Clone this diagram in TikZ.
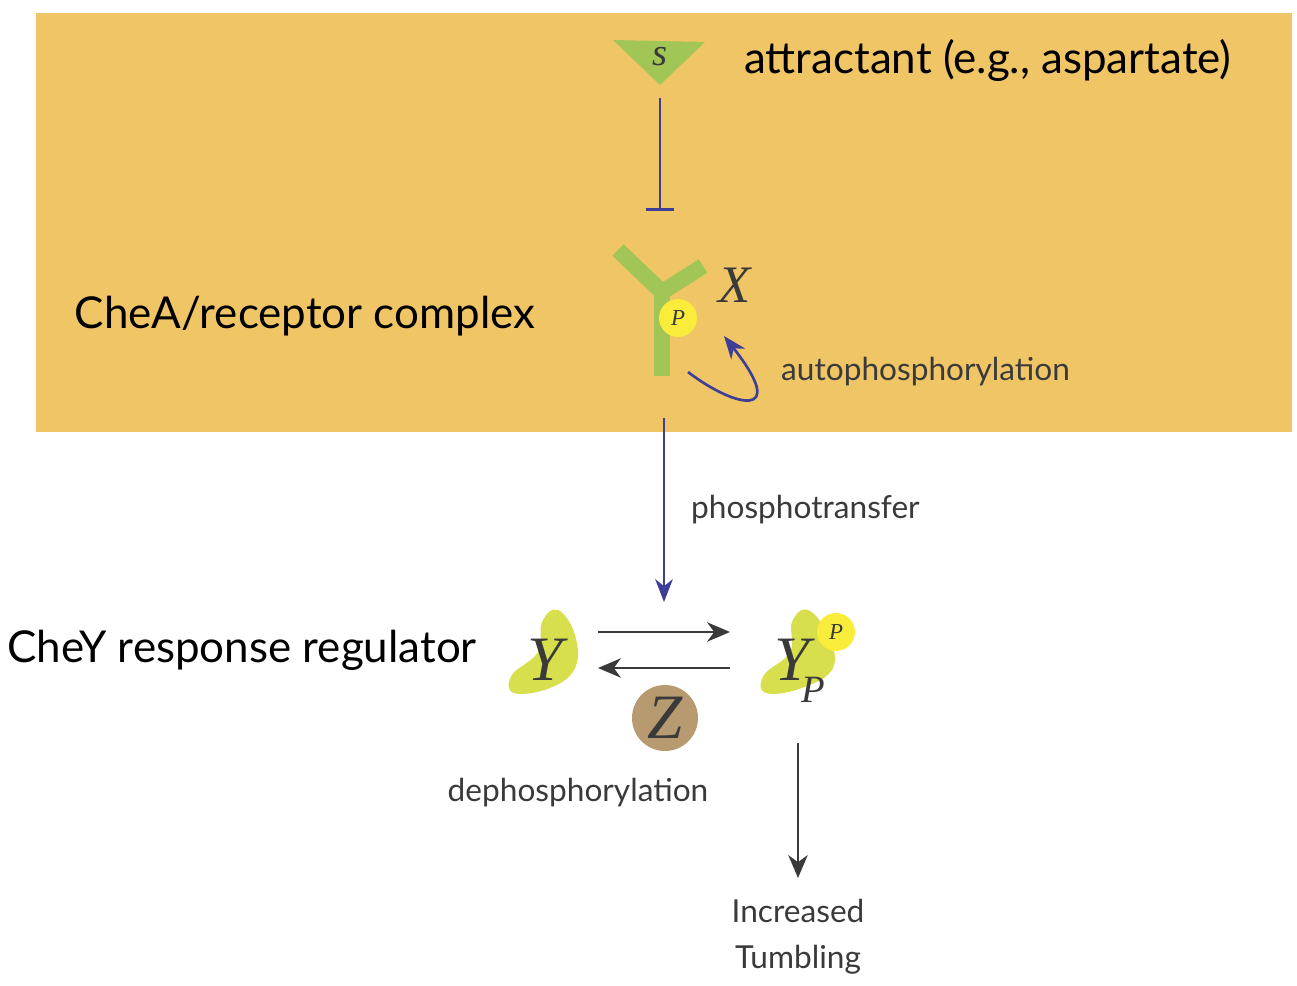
\documentclass[tikz,border=0pt]{standalone}
\usepackage{fontspec}
\setmainfont{Lato}
\newfontfamily\serifit{Liberation Serif}[Scale=1]
\usetikzlibrary{arrows.meta}
\definecolor{bgorange}{HTML}{F0C566}
\definecolor{recgreen}{HTML}{A2C655}
\definecolor{cheygreen}{HTML}{D8DF4C}
\definecolor{pyellow}{HTML}{F9EC3A}
\definecolor{zbrown}{HTML}{B89A70}
\definecolor{arrblue}{HTML}{3C3F95}
\definecolor{txtgray}{HTML}{3A3A3A}
\tikzset{
  biglabel/.style={font=\fontsize{25}{29}\selectfont, text=black},
  smalllabel/.style={font=\fontsize{18}{26}\selectfont, text=txtgray},
  varlabel/.style={font=\fontsize{#1}{#1}\selectfont\serifit\itshape, text=txtgray},
  phos/.style={circle, fill=pyellow, minimum size=38*0.02cm, inner sep=0pt,
    font=\fontsize{13}{13}\selectfont\serifit\itshape, text=txtgray},
  flow/.style={-{Stealth[length=13pt,width=11pt,inset=4pt]}, line width=1.5pt, txtgray},
  bflow/.style={-{Stealth[length=13pt,width=10pt,inset=4pt]}, line width=1.5pt, arrblue},
}
\begin{document}
\begin{tikzpicture}[x=0.02cm,y=-0.02cm]
   \useasboundingbox (0,0) rectangle (1297,986);
   \fill[bgorange] (36,13) rectangle (1292,432);
   % attractant
   \fill[recgreen] (613,40) -- (705,42) -- (660,85) -- cycle;
   \node[varlabel=22] (s) at (660,57) {s};
   \node[biglabel, anchor=west] (attr) at (738,60) {attractant (e.g., aspartate)};
   \coordinate (stop) at (660,98);
   \coordinate (bar) at (660,211);
   \draw[arrblue, line width=1.5pt, -{Bar[width=16pt]}] (stop) -- (bar);
   % receptor
   \draw[recgreen, line width=16*0.02cm] (618,250) -- (662,292) -- (703,266);
   \draw[recgreen, line width=16*0.02cm] (662,288) -- (662,376);
   \node[phos] (recp) at (678,318) {P};
   \node[varlabel=30] (x) at (735,285) {X};
   \node[biglabel] (chea) at (305,316) {CheA/receptor complex};
   \coordinate (autostart) at (688,372);
   \coordinate (autoend) at (724,336);
   \draw[bflow] (autostart) .. controls (735,408) and (790,420) .. (autoend);
   \node[smalllabel, anchor=west] (auto) at (775,372) {autophosphorylation};
   % phosphotransfer
   \coordinate (ptop) at (664,418);
   \coordinate (pbot) at (664,602);
   \draw[bflow] (ptop) -- (pbot);
   \node[smalllabel, anchor=west] (ptrans) at (685,510) {phosphotransfer};
   % CheY
   \node[biglabel] (chey) at (242,650) {CheY response regulator};
   \fill[cheygreen] plot[smooth cycle, tension=0.7] coordinates
     {(514,693) (512,675) (538,652) (542,622) (558,610) (575,635) (575,668) (550,688)};
   \node[varlabel=36] (y) at (545,660) {Y};
   \fill[cheygreen] plot[smooth cycle, tension=0.7] coordinates
     {(766,693) (764,675) (790,652) (792,622) (808,610) (828,635) (833,668) (802,688)};
   \node[varlabel=36] (yp) at (792,660) {Y};
   \node[varlabel=22] (ypsub) at (813,690) {P};
   \node[phos] (cheyp) at (836,632) {P};
   \coordinate (fa) at (598,632);
   \coordinate (fb) at (730,632);
   \coordinate (ba) at (730,668);
   \coordinate (bb) at (598,668);
   \draw[flow] (fa) -- (fb);
   \draw[flow] (ba) -- (bb);
   \node[circle, fill=zbrown, minimum size=66*0.02cm, inner sep=0pt,
     varlabel=36] (z) at (665,718) {Z};
   \node[smalllabel] (deph) at (578,793) {dephosphorylation};
   % output
   \coordinate (oa) at (798,743);
   \node[smalllabel, align=center, anchor=north] (tumb) at (798,893) {Increased\\Tumbling};
   \draw[flow] (oa) -- (798,878);
\end{tikzpicture}
\end{document}
